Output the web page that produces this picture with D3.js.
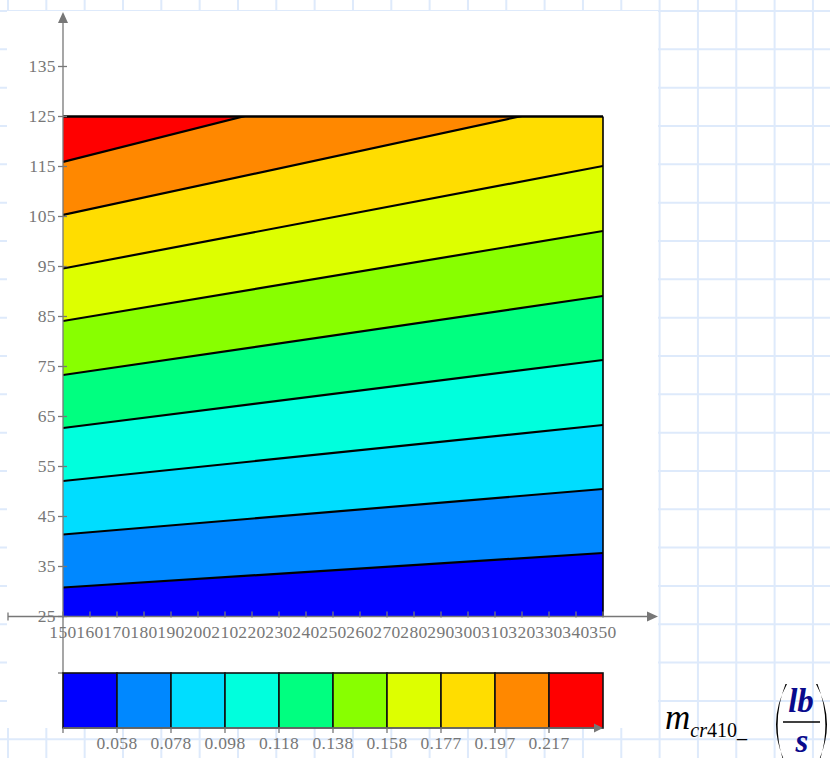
<!DOCTYPE html>
<html>
<head>
<meta charset="utf-8">
<script src="https://cdn.jsdelivr.net/npm/d3@7"></script>
<style>
    body { margin: 0; background: #fff; }
    svg { display: block; }
    text { font-family: "Liberation Serif", "DejaVu Serif", serif; }
</style>
</head>
<body>
<div class="container"></div>
<script>
// contour boundaries, read at the two ends of the x range
const X_ENDS = [150, 350]
const LINE_AT_150 = [30.8, 41.4, 52.1, 62.7, 73.3, 84.1, 94.6, 105.3, 115.9]
const LINE_AT_350 = [37.7, 50.5, 63.3, 76.3, 89.1, 102.1, 115.1, 128.6, 143.2]

// level values shown under the colour bar
const LEVELS = ["0.058", "0.078", "0.098", "0.118", "0.138", "0.158", "0.177", "0.197", "0.217"]

const BAND_COLORS = ["#0000ff", "#0088ff", "#00ddff", "#00ffdd", "#00ff80",
                     "#88ff00", "#ddff00", "#ffdd00", "#ff8800", "#ff0000"]

const X_TICKS = [150, 160, 170, 180, 190, 200, 210, 220, 230, 240, 250,
                 260, 270, 280, 290, 300, 310, 320, 330, 340, 350]
const Y_TICKS = [25, 35, 45, 55, 65, 75, 85, 95, 105, 115, 125, 135]
const Y_DATA = [25, 125]

const AXIS_GRAY = "#777"

class Chart {
    constructor(div) {
        this.div = div
    }

    setDimensions() {
        this.width = 830
        this.height = 758
        // white sheet behind the plot
        this.sheet = { x0: 7, y0: 11, x1: 658, y1: 728 }
        // plot box
        this.plot = { left: 63, right: 603, top: 66.5, bottom: 616.5 }
        // colour bar box
        this.bar = { top: 673, bottom: 728 }
    }

    createGraph() {
        this.svg = d3.select(this.div).append("svg")
            .attr("width", this.width)
            .attr("height", this.height)

        // worksheet grid in the background
        let gridStep = 38.33
        let grid = this.svg.append("g").attr("stroke", "#deeafb").attr("stroke-width", 2)
        grid.selectAll("line.v")
            .data(d3.range(8, this.width, gridStep))
            .enter().append("line")
            .attr("x1", d => d).attr("x2", d => d)
            .attr("y1", 0).attr("y2", this.height)
        grid.selectAll("line.h")
            .data(d3.range(11, this.height, gridStep))
            .enter().append("line")
            .attr("y1", d => d).attr("y2", d => d)
            .attr("x1", 0).attr("x2", this.width)

        this.svg.append("rect")
            .attr("x", this.sheet.x0).attr("y", this.sheet.y0)
            .attr("width", this.sheet.x1 - this.sheet.x0)
            .attr("height", this.sheet.y1 - this.sheet.y0)
            .attr("fill", "#fff")

        // scales
        this.x = d3.scaleLinear().domain([150, 350]).range([this.plot.left, this.plot.right])
        this.y = d3.scaleLinear().domain([25, 135]).range([this.plot.bottom, this.plot.top])

        this.drawContours()
        this.drawAxes()
        this.drawColorBar()
        this.drawLabel()
    }

    drawContours() {
        let x = this.x, y = this.y

        this.svg.append("clipPath").attr("id", "plotclip")
            .append("rect")
            .attr("x", x(150)).attr("y", y(Y_DATA[1]))
            .attr("width", x(350) - x(150))
            .attr("height", y(Y_DATA[0]) - y(Y_DATA[1]))

        // boundary lines as point lists
        let lines = LINE_AT_150.map((v, i) => [[X_ENDS[0], v], [X_ENDS[1], LINE_AT_350[i]]])
        let bottomLine = X_ENDS.map(d => [d, Y_DATA[0]])
        let topLine = X_ENDS.map(d => [d, Y_DATA[1] + 30])

        let bands = BAND_COLORS.map((c, i) => {
            let lo = i === 0 ? bottomLine : lines[i - 1]
            let hi = i === lines.length ? topLine : lines[i]
            return { color: c, pts: lo.map((p, k) => [p[0], p[1], hi[k][1]]) }
        })

        let area = d3.area()
            .x(d => x(d[0]))
            .y0(d => y(d[1]))
            .y1(d => y(d[2]))

        let g = this.svg.append("g").attr("clip-path", "url(#plotclip)")

        g.selectAll("path.band")
            .data(bands)
            .enter().append("path")
            .attr("class", "band")
            .attr("d", d => area(d.pts))
            .attr("fill", d => d.color)
            .attr("stroke", d => d.color)
            .attr("stroke-width", 0.5)

        let line = d3.line().x(d => x(d[0])).y(d => y(d[1]))
        g.selectAll("path.level")
            .data(lines)
            .enter().append("path")
            .attr("class", "level")
            .attr("d", line)
            .attr("fill", "none")
            .attr("stroke", "#000")
            .attr("stroke-width", 2.2)

        // frame of the data region
        this.svg.append("line")
            .attr("x1", x(150)).attr("x2", x(350))
            .attr("y1", y(125)).attr("y2", y(125))
            .attr("stroke", "#000").attr("stroke-width", 2.6)
        this.svg.append("line")
            .attr("x1", x(350)).attr("x2", x(350))
            .attr("y1", y(125)).attr("y2", y(25))
            .attr("stroke", "#000").attr("stroke-width", 1.6)
    }

    drawAxes() {
        let x = this.x, y = this.y
        let g = this.svg.append("g").attr("stroke", AXIS_GRAY).attr("stroke-width", 1.3)

        // x axis line with arrow
        g.append("line")
            .attr("x1", 8).attr("x2", 650)
            .attr("y1", y(25)).attr("y2", y(25))
        g.append("line")
            .attr("x1", 8).attr("x2", 8)
            .attr("y1", y(25) - 4).attr("y2", y(25) + 4)
        this.svg.append("path")
            .attr("d", `M658,${y(25)}L647,${y(25) - 5}L647,${y(25) + 5}Z`)
            .attr("fill", AXIS_GRAY)

        // y axis line, runs down to the colour bar
        g.append("line")
            .attr("x1", x(150)).attr("x2", x(150))
            .attr("y1", 20).attr("y2", this.bar.top)
        g.append("line")
            .attr("x1", x(150) - 5).attr("x2", x(150))
            .attr("y1", this.bar.top).attr("y2", this.bar.top)
        this.svg.append("path")
            .attr("d", `M${x(150)},12L${x(150) - 5},23L${x(150) + 5},23Z`)
            .attr("fill", AXIS_GRAY)

        // ticks
        g.selectAll("line.xt")
            .data(X_TICKS)
            .enter().append("line")
            .attr("x1", d => x(d)).attr("x2", d => x(d))
            .attr("y1", y(25) - 5).attr("y2", y(25) + 1)
        g.selectAll("line.yt")
            .data(Y_TICKS)
            .enter().append("line")
            .attr("x1", x(150) - 5).attr("x2", x(150) + 4)
            .attr("y1", d => y(d)).attr("y2", d => y(d))

        // tick labels
        this.svg.selectAll("text.xl")
            .data(X_TICKS)
            .enter().append("text")
            .attr("x", d => x(d))
            .attr("y", 638)
            .attr("text-anchor", "middle")
            .attr("font-size", 17.5)
            .attr("letter-spacing", 0.4)
            .attr("fill", AXIS_GRAY)
            .text(d => d)
        this.svg.selectAll("text.yl")
            .data(Y_TICKS)
            .enter().append("text")
            .attr("x", 56)
            .attr("y", d => y(d) + 5.5)
            .attr("text-anchor", "end")
            .attr("font-size", 17.5)
            .attr("letter-spacing", 0.4)
            .attr("fill", AXIS_GRAY)
            .text(d => d)
    }

    drawColorBar() {
        let cb = d3.scaleLinear().domain([0, BAND_COLORS.length])
            .range([this.plot.left, this.plot.right])
        let top = this.bar.top, bottom = this.bar.bottom

        this.svg.selectAll("rect.cell")
            .data(BAND_COLORS)
            .enter().append("rect")
            .attr("class", "cell")
            .attr("x", (d, i) => cb(i))
            .attr("y", top)
            .attr("width", cb(1) - cb(0))
            .attr("height", bottom - top)
            .attr("fill", d => d)
            .attr("stroke", "#111")
            .attr("stroke-width", 1.6)

        // axis under the bar
        let g = this.svg.append("g").attr("stroke", AXIS_GRAY).attr("stroke-width", 1.3)
        g.append("line")
            .attr("x1", cb(0)).attr("x2", cb(10) - 8)
            .attr("y1", bottom).attr("y2", bottom)
        this.svg.append("path")
            .attr("d", `M${cb(10)},${bottom}L${cb(10) - 9},${bottom - 4.5}L${cb(10) - 9},${bottom + 4.5}Z`)
            .attr("fill", AXIS_GRAY)
        g.selectAll("line.ct")
            .data(d3.range(0, LEVELS.length + 1))
            .enter().append("line")
            .attr("x1", d => cb(d)).attr("x2", d => cb(d))
            .attr("y1", bottom).attr("y2", bottom + 5)

        this.svg.selectAll("text.cl")
            .data(LEVELS)
            .enter().append("text")
            .attr("x", (d, i) => cb(i + 1))
            .attr("y", 749)
            .attr("text-anchor", "middle")
            .attr("font-size", 17.5)
            .attr("letter-spacing", 0.3)
            .attr("fill", AXIS_GRAY)
            .text(d => d)
    }

    drawLabel() {
        // m_cr410_ (lb/s)
        let t = this.svg.append("text")
            .attr("x", 665)
            .attr("y", 729)
            .attr("fill", "#000")
        t.append("tspan")
            .attr("font-size", 35)
            .attr("font-style", "italic")
            .text("m")
        t.append("tspan")
            .attr("font-size", 20)
            .attr("font-style", "italic")
            .attr("dy", 8)
            .text("cr")
        t.append("tspan")
            .attr("font-size", 20)
            .text("410_")

        let navy = "#0a0a8c"
        this.svg.append("text")
            .attr("x", 801).attr("y", 712)
            .attr("text-anchor", "middle")
            .attr("font-size", 33)
            .attr("font-weight", "bold")
            .attr("font-style", "italic")
            .attr("fill", navy)
            .text("lb")
        this.svg.append("text")
            .attr("x", 802).attr("y", 752)
            .attr("text-anchor", "middle")
            .attr("font-size", 33)
            .attr("font-weight", "bold")
            .attr("font-style", "italic")
            .attr("fill", navy)
            .text("s")
        this.svg.append("line")
            .attr("x1", 783).attr("x2", 820)
            .attr("y1", 722).attr("y2", 722)
            .attr("stroke", "#000").attr("stroke-width", 1.5)

        // parentheses drawn as tapered crescents
        this.svg.append("path")
            .attr("d", "M787,684Q765,724 787,766L785,766Q770,724 785.5,684Z")
            .attr("fill", "#000")
        this.svg.append("path")
            .attr("d", "M816,684Q838,724 816,766L818,766Q833,724 817.5,684Z")
            .attr("fill", "#000")
    }

    run() {
        this.setDimensions()
        this.createGraph()
    }
}

let container = document.querySelector("div.container")
let app = new Chart(container)
app.run()
</script>
</body>
</html>
